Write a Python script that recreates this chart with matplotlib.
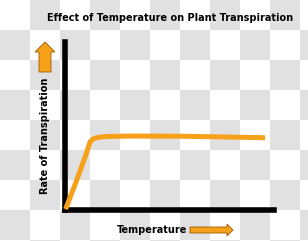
import numpy as np
import matplotlib
matplotlib.use("Agg")
import matplotlib.pyplot as plt
from matplotlib.patches import FancyArrow

# Data
temperature = [0.5, 5.0, 9.7, 12.1, 13.5, 15.4, 19.1, 31.0, 54.6, 78.3, 94.8]
rate = [0.5, 15.0, 31.0, 40.0, 41.8, 42.6, 43.2, 43.5, 43.4, 42.9, 42.5]
title = "Effect of Temperature on Plant Transpiration"
xlabel = "Temperature"
ylabel = "Rate of Transpiration"

W, H = 308, 241
fig = plt.figure(figsize=(W / 100, H / 100), dpi=100)

# background: checkerboard + decorations in pixel space
bg = fig.add_axes([0, 0, 1, 1])
bg.axis("off")
sq = 30
nx, ny = W // sq + 2, H // sq + 2
board = np.indices((ny, nx)).sum(axis=0) % 2
bg.imshow(board, cmap=matplotlib.colors.ListedColormap(["#ffffff", "#e1e1e1"]),
          extent=(0, nx * sq, ny * sq, 0), interpolation="nearest", zorder=0)
bg.set_xlim(0, W)
bg.set_ylim(H, 0)

orange = "#F7A11A"
edge = "#9a5a00"
bg.add_patch(FancyArrow(45, 72, 0, -20, width=12, head_width=20, head_length=10,
                        length_includes_head=False, fc=orange, ec=edge, lw=0.6, zorder=2))
bg.add_patch(FancyArrow(190, 230, 37, 0, width=6, head_width=12, head_length=6,
                        length_includes_head=False, fc=orange, ec=edge, lw=0.6, zorder=2))

bg.text(170, 18, title, ha="center", va="center", fontsize=7.0, fontweight="bold",
        family="DejaVu Sans", color="black")
bg.text(152, 230, xlabel, ha="center", va="center", fontsize=7.0, fontweight="bold",
        family="DejaVu Sans", color="black")
bg.text(45, 136, ylabel, ha="center", va="center", rotation=90, fontsize=7.0,
        fontweight="bold", family="DejaVu Sans", color="black")

# chart axes
x0, x1 = 64.5, 274
y0, y1 = 210, 42
ax = fig.add_axes([x0 / W, (H - y0) / H, (x1 - x0) / W, (y0 - y1) / H])
ax.patch.set_alpha(0)
ax.set_xlim(0, 100 * (x1 - x0) / 211.5)
ax.set_ylim(0, 100 * (y0 - y1) / 170)
for s in ["top", "right"]:
    ax.spines[s].set_visible(False)
for s in ["left", "bottom"]:
    ax.spines[s].set_linewidth(4)
    ax.spines[s].set_color("black")
    ax.spines[s].set_zorder(1)
ax.set_xticks([])
ax.set_yticks([])
ax.plot(temperature, rate, color=orange, lw=3.6, solid_capstyle="butt",
        solid_joinstyle="round", zorder=3, clip_on=False)

fig.savefig("out.png", dpi=100)
